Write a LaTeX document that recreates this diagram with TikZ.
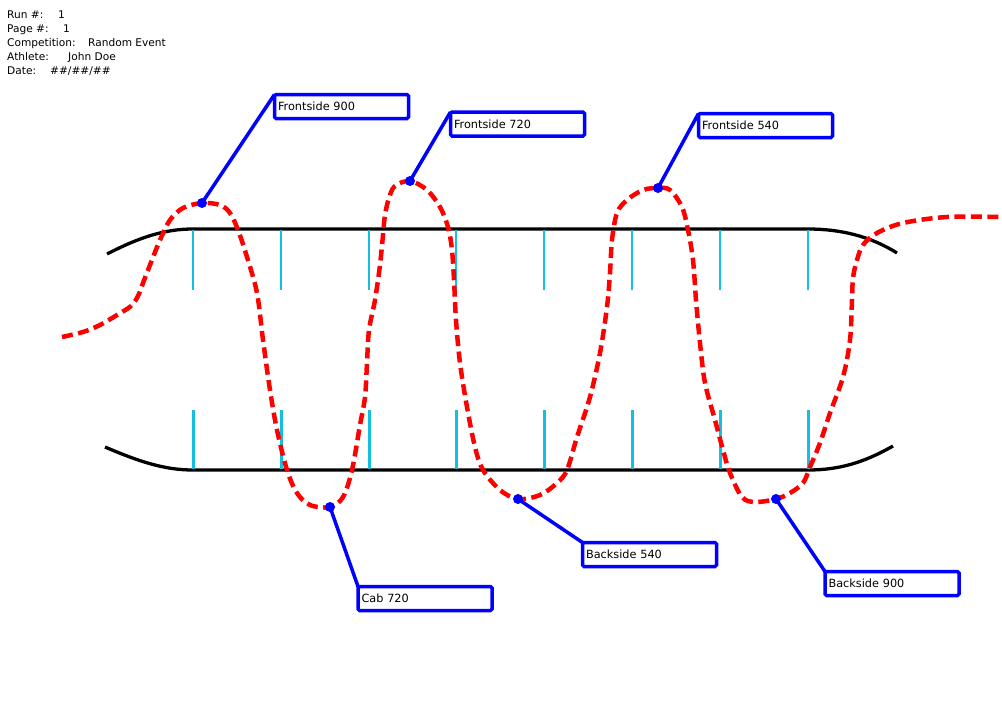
\documentclass[tikz,border=0pt]{standalone}
\usepackage{fontspec}
\setmainfont{DejaVu Sans}
\definecolor{tickc}{RGB}{20,190,225}
\definecolor{pathred}{RGB}{255,0,0}
\definecolor{callblue}{RGB}{0,0,255}
\begin{document}
\begin{tikzpicture}[x=1pt,y=-1pt,
  board/.style={line width=3.3pt,black},
  tickline/.style={line width=2.7pt,tickc},
  trick/.style={line width=4.5pt,pathred,dash pattern=on 11pt off 5.5pt},
  leader/.style={line width=3.5pt,callblue},
  dotmark/.style={circle,fill=callblue,inner sep=0pt,minimum size=10pt},
  labelbox/.style={draw=callblue,line width=3.5pt,fill=white,rounded corners=1.5pt,
    anchor=north west,outer sep=0pt,minimum width=134pt,minimum height=24pt,
    inner xsep=3pt,inner ysep=0pt,text width=127pt,align=left,
    font=\fontsize{11.3}{13}\selectfont},
  hdr/.style={anchor=base west,inner sep=0pt,font=\fontsize{10.6}{12}\selectfont}]
\useasboundingbox (0,0) rectangle (1002,702);
\fill[white] (0,0) rectangle (1002,702);

% header
\node[hdr] (h1) at (7,18.5) {Run \#:};
\node[hdr] (v1) at (58,18.5) {1};
\node[hdr] (h2) at (7,32.5) {Page \#:};
\node[hdr] (v2) at (63,32.5) {1};
\node[hdr] (h3) at (7,46.5) {Competition:};
\node[hdr] (v3) at (88,46.5) {Random Event};
\node[hdr] (h4) at (7,60.5) {Athlete:};
\node[hdr] (v4) at (68,60.5) {John Doe};
\node[hdr] (h5) at (7,74.5) {Date:};
\node[hdr] (v5) at (50,74.5) {\#\#/\#\#/\#\#};

% board
\draw[board] (107,254) .. controls (140,237) and (165,229) .. (193,229) -- (808,229) .. controls (840,229) and (870,236) .. (897,253);
\draw[board] (105,447) .. controls (140,462) and (165,470) .. (193,470) -- (808,470) .. controls (840,470) and (865,462) .. (893,446);
\foreach \x in {193,281,369,456,544,632,720,808}{
  \draw[tickline] (\x,230) -- (\x,290);
  \draw[tickline] (\x+0.7,410) -- (\x+0.7,469);
}

% trick path
\draw[trick] plot[smooth,tension=0.55] coordinates {
(62,337) (83,332) (100,325) (117,315) (131,306) (138,296) (143,283) (150,265) (160,240) (170,220) (183,208) (202,203) (220,205) (230,213) (238,230) (247,257) (257,293) (263,340) (270,390) (277,430) (287,470) (297,493) (310,505) (330,507)
(343,497) (352,470) (360,425) (365,397) (367,363) (369,330) (375,300) (380,265) (383,235) (385,215) (389,198) (395,186) (410,181) (427,190) (440,207) (448,227) (452,250) (454,280) (456,320) (460,363) (467,407) (475,447) (483,470) (500,490) (518,499)
(540,495) (557,483) (567,470) (577,437) (590,397) (600,353) (607,307) (610,273) (612,240) (617,213) (627,200) (643,190) (658,188) (670,190) (682,207) (688,230) (693,260) (696,300) (700,343) (705,383) (715,420) (723,450) (730,473) (742,497) (755,502) (776,499)
(790,493) (803,483) (810,467) (820,443) (830,413) (843,377) (850,340) (852,300) (853,278) (857,260) (863,245) (877,233) (903,223) (947,217) (1002,217)};

% dots
\node[dotmark] (d1) at (202,203) {};
\node[dotmark] (d2) at (410,181) {};
\node[dotmark] (d3) at (658,188) {};
\node[dotmark] (d4) at (330,507) {};
\node[dotmark] (d5) at (518,499) {};
\node[dotmark] (d6) at (776,499) {};

% label boxes
\node[labelbox] (b1) at (274.5,94.5) {Frontside 900};
\node[labelbox] (b2) at (450.5,112) {Frontside 720};
\node[labelbox] (b3) at (698.5,113.5) {Frontside 540};
\node[labelbox] (b4) at (358,586.5) {Cab 720};
\node[labelbox] (b5) at (582.5,542.5) {Backside 540};
\node[labelbox] (b6) at (825,571.5) {Backside 900};

% leaders
\draw[leader] (b1.north west) -- (d1.center);
\draw[leader] (b2.north west) -- (d2.center);
\draw[leader] (b3.north west) -- (d3.center);
\draw[leader] (b4.north west) -- (d4.center);
\draw[leader] (b5.north west) -- (d5.center);
\draw[leader] (b6.north west) -- (d6.center);
\end{tikzpicture}
\end{document}
